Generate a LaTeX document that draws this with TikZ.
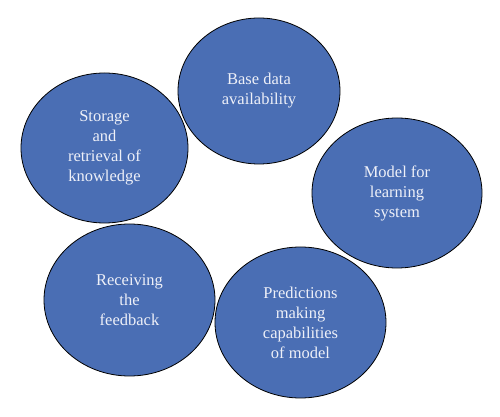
\documentclass[tikz,border=0pt]{standalone}
\usepackage{fontspec}
\setmainfont{Liberation Serif}
\usetikzlibrary{shapes.geometric}
\definecolor{bubble}{HTML}{4A6EB4}
\definecolor{bubbletext}{HTML}{EEF0F8}
\tikzset{
  bubblenode/.style={ellipse, draw=black, line width=0.8pt, fill=bubble,
    inner sep=0pt, text=bubbletext, align=center,
    font=\fontsize{16.5}{20}\selectfont},
}
\begin{document}
\begin{tikzpicture}[x=1pt,y=1pt]
\useasboundingbox (0,0) rectangle (500,417);
\node[bubblenode, minimum width=162pt, minimum height=146pt] (base) at (259,{417-91}) {Base data\\availability};
\node[bubblenode, minimum width=167pt, minimum height=150pt] (store) at (104.5,{417-148}) {Storage\\and\\retrieval of\\knowledge};
\node[bubblenode, minimum width=170pt, minimum height=150pt] (model) at (397,{417-193}) {Model for\\learning\\system};
\node[bubblenode, minimum width=171pt, minimum height=152pt] (recv) at (129.5,{417-300}) {Receiving\\the\\feedback};
\node[bubblenode, minimum width=171pt, minimum height=151pt] (pred) at (300.5,{417-322.5}) {Predictions\\making\\capabilities\\of model};
\end{tikzpicture}
\end{document}
